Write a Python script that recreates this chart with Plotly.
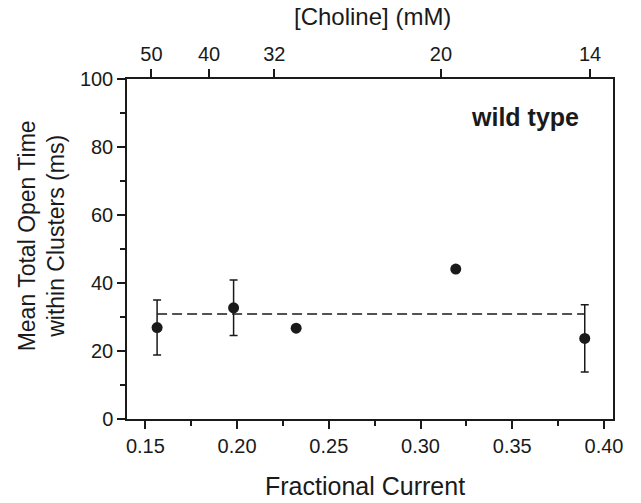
import plotly.graph_objects as go

# Data
frac_current = [0.1564, 0.1981, 0.2322, 0.3192, 0.3895]
open_time = [26.9, 32.7, 26.7, 44.1, 23.7]
open_time_err = [8.1, 8.15, 0.0, 0.0, 9.9]
fit_level = 30.9

choline_pos = [0.1533, 0.1847, 0.2203, 0.3111, 0.3924]
choline_text = ["50", "40", "32", "20", "14"]

FONT = "Liberation Sans, Arial, sans-serif"
INK = "#1a1a1a"

fig = go.Figure()

fig.add_trace(go.Scatter(
    x=[frac_current[0], frac_current[-1]], y=[fit_level, fit_level],
    mode="lines", line=dict(color=INK, width=1.5, dash="10px,5px"),
    hoverinfo="skip", showlegend=False))

fig.add_trace(go.Scatter(
    x=frac_current, y=open_time, mode="markers",
    marker=dict(color=INK, size=11),
    error_y=dict(type="data", array=open_time_err, visible=True,
                 color=INK, thickness=1.5, width=4),
    showlegend=False))

fig.add_trace(go.Scatter(
    x=choline_pos, y=[0] * len(choline_pos), xaxis="x2", mode="markers",
    marker=dict(opacity=0), hoverinfo="skip", showlegend=False))

xrange = [0.1400, 0.4049]

fig.update_layout(
    width=641, height=503,
    margin=dict(l=127, r=28, t=79, b=84),
    paper_bgcolor="white", plot_bgcolor="white",
    font=dict(family=FONT, color=INK, size=20),
    xaxis=dict(range=xrange, tick0=0.15, dtick=0.05, tickformat=".2f",
               showgrid=False, zeroline=False, showline=True, linecolor=INK,
               linewidth=1.5, mirror=True, ticks="outside", ticklen=8,
               tickwidth=1.5, tickcolor=INK,
               tickfont=dict(size=20, family=FONT, color=INK),
               minor=dict(tick0=0.125, dtick=0.025, ticks="outside", ticklen=5,
                          tickwidth=1.5, tickcolor=INK)),
    xaxis2=dict(range=xrange, overlaying="x", side="top", anchor="y",
                tickmode="array", tickvals=choline_pos, ticktext=choline_text,
                showgrid=False, zeroline=False, showline=False,
                ticks="outside", ticklen=9, tickwidth=1.5, tickcolor=INK,
                tickfont=dict(size=20, family=FONT, color=INK)),
    yaxis=dict(range=[0, 100], tick0=0, dtick=20, showgrid=False,
               zeroline=False, showline=True, linecolor=INK, linewidth=1.5,
               mirror=True, ticks="outside", ticklen=8, tickwidth=1.5,
               tickcolor=INK, tickfont=dict(size=20, family=FONT, color=INK),
               minor=dict(dtick=10, ticks="outside", ticklen=5, tickwidth=1.5,
                          tickcolor=INK)),
    annotations=[
        dict(text="Fractional Current", xref="paper", yref="paper",
             x=0.49, y=-0.197, showarrow=False, xanchor="center",
             yanchor="middle", font=dict(size=25, family=FONT, color=INK)),
        dict(text="[Choline] (mM)", xref="paper", yref="paper",
             x=0.505, y=1.185, showarrow=False, xanchor="center",
             yanchor="middle", font=dict(size=24, family=FONT, color=INK)),
        dict(text="Mean Total Open Time<br>within Clusters (ms)",
             xref="paper", yref="paper", x=-0.175, y=0.54, showarrow=False,
             textangle=-90, xanchor="center", yanchor="middle",
             font=dict(size=23, family=FONT, color=INK)),
        dict(text="<b>wild type</b>", xref="paper", yref="paper",
             x=0.819, y=0.888, showarrow=False, xanchor="center",
             yanchor="middle", font=dict(size=25, family=FONT, color=INK)),
    ],
)

fig.write_html("out.html",
               config={"displayModeBar": False},
               post_script="document.body.style.margin='0px';"
                           "document.body.style.overflow='hidden';")
